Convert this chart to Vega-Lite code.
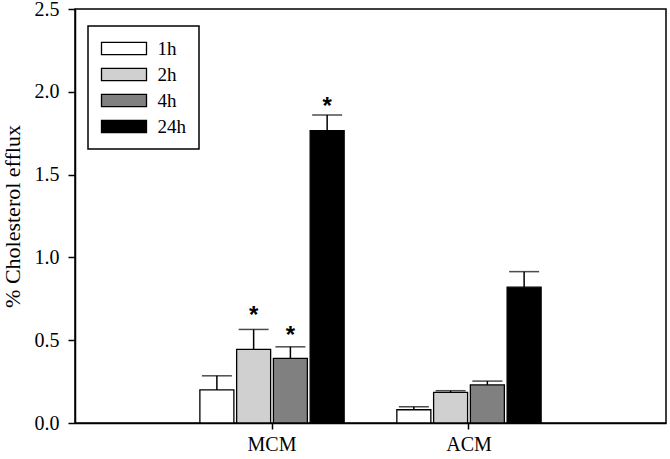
{
  "$schema": "https://vega.github.io/schema/vega-lite/v6.json",
  "width": 591,
  "height": 414,
  "autosize": {"type": "none"},
  "padding": {"left": 75, "top": 9, "right": 4, "bottom": 36},
  "background": "white",
  "data": {
    "values": [
      {"cond": "MCM", "time": "1h", "mean": 0.20, "upper": 0.285, "sig": null, "star": null},
      {"cond": "MCM", "time": "2h", "mean": 0.445, "upper": 0.565, "sig": "*", "star": 0.675},
      {"cond": "MCM", "time": "4h", "mean": 0.39, "upper": 0.46, "sig": "*", "star": 0.558},
      {"cond": "MCM", "time": "24h", "mean": 1.765, "upper": 1.86, "sig": "*", "star": 1.94},
      {"cond": "ACM", "time": "1h", "mean": 0.08, "upper": 0.098, "sig": null, "star": null},
      {"cond": "ACM", "time": "2h", "mean": 0.185, "upper": 0.195, "sig": null, "star": null},
      {"cond": "ACM", "time": "4h", "mean": 0.23, "upper": 0.253, "sig": null, "star": null},
      {"cond": "ACM", "time": "24h", "mean": 0.82, "upper": 0.914, "sig": null, "star": null}
    ]
  },
  "encoding": {
    "x": {
      "field": "cond", "type": "nominal", "sort": ["MCM", "ACM"],
      "scale": {"paddingInner": 0.2675, "paddingOuter": 0.634},
      "axis": {"title": null, "labelAngle": 0, "labelFontSize": 20, "labelPadding": 5, "tickSize": 6}
    },
    "xOffset": {
      "field": "time", "type": "nominal", "sort": ["1h", "2h", "4h", "24h"],
      "scale": {"paddingInner": 0.075, "paddingOuter": 0}
    }
  },
  "layer": [
    {
      "mark": {"type": "bar", "stroke": "black", "strokeWidth": 1.3},
      "encoding": {
        "y": {
          "field": "mean", "type": "quantitative",
          "scale": {"domain": [0, 2.5], "nice": false, "zero": true},
          "axis": {"title": "% Cholesterol efflux", "values": [0, 0.5, 1, 1.5, 2, 2.5], "format": ".1f", "grid": false, "labelFontSize": 20, "titleFontSize": 22, "titleFontWeight": "normal", "tickSize": 7, "labelPadding": 9, "titlePadding": 10}
        },
        "fill": {
          "field": "time", "type": "nominal", "sort": ["1h", "2h", "4h", "24h"],
          "scale": {"domain": ["1h", "2h", "4h", "24h"], "range": ["#ffffff", "#d0d0d0", "#808080", "#000000"]},
          "legend": {
            "title": null, "orient": "none", "legendX": 13, "legendY": 17,
            "direction": "vertical", "columns": 1,
            "padding": 12.5, "strokeColor": "black",
            "symbolType": "M-1,-0.67H4V0.67H-1Z", "symbolSize": 324,
            "symbolStrokeColor": "black", "symbolStrokeWidth": 1.3, "symbolOffset": 0,
            "labelAlign": "left", "labelOffset": 37, "labelFontSize": 19, "labelLimit": 200, "rowPadding": 6
          }
        }
      }
    },
    {
      "mark": {"type": "rule", "color": "black", "strokeWidth": 1.5},
      "encoding": {
        "y": {"field": "mean", "type": "quantitative"},
        "y2": {"field": "upper"}
      }
    },
    {
      "mark": {"type": "tick", "color": "black", "size": 30, "thickness": 1.5, "orient": "horizontal"},
      "encoding": {
        "y": {"field": "upper", "type": "quantitative"}
      }
    },
    {
      "transform": [{"filter": "datum.sig != null"}],
      "mark": {"type": "text", "font": "Liberation Sans", "fontWeight": "bold", "fontSize": 24, "baseline": "middle", "dy": 5, "color": "black"},
      "encoding": {
        "y": {"field": "star", "type": "quantitative"},
        "text": {"field": "sig"}
      }
    }
  ],
  "config": {
    "font": "Liberation Serif",
    "view": {"stroke": "black", "strokeWidth": 1.5},
    "axis": {"domainColor": "black", "domainWidth": 1.5, "tickColor": "black", "tickWidth": 1.5, "labelColor": "black", "titleColor": "black", "labelFont": "Liberation Serif", "titleFont": "Liberation Serif"},
    "legend": {"labelFont": "Liberation Serif", "labelColor": "black", "labelAlign": "left", "strokeWidth": 1.5}
  }
}
